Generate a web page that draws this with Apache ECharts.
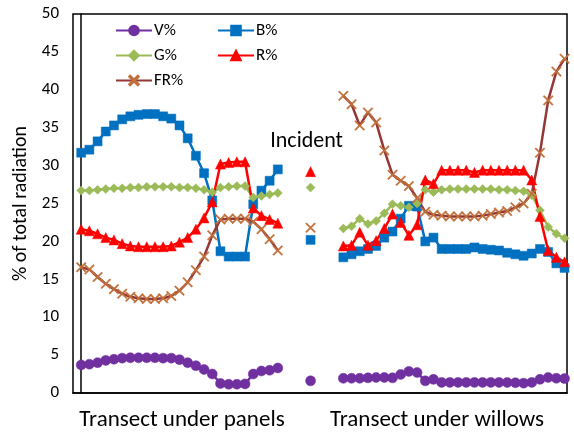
<!DOCTYPE html>
<html>
<head>
<meta charset="utf-8">
<script src="https://cdn.jsdelivr.net/npm/echarts@6/dist/echarts.min.js"></script>
<style>
  html, body { margin: 0; padding: 0; background: #fff; }
  #main { width: 574px; height: 438px; }
</style>
</head>
<body>
<div id="main"></div>
<script>
// transect under panels (25 points)
var panelV  = [3.7, 3.8, 4.0, 4.3, 4.45, 4.6, 4.65, 4.65, 4.65, 4.65, 4.6, 4.6, 4.4, 4.0, 3.6, 3.1, 2.5, 1.25, 1.15, 1.15, 1.2, 2.5, 2.9, 3.0, 3.3];
var panelB  = [31.7, 32.1, 33.2, 34.5, 35.3, 36.1, 36.5, 36.7, 36.8, 36.8, 36.5, 36.2, 35.3, 33.6, 31.3, 29.0, 25.4, 18.7, 18.0, 18.0, 18.0, 24.9, 26.7, 28.0, 29.5];
var panelG  = [26.7, 26.7, 26.8, 26.9, 27.0, 27.0, 27.1, 27.1, 27.2, 27.2, 27.2, 27.2, 27.1, 27.1, 27.0, 26.8, 26.5, 27.1, 27.2, 27.3, 27.3, 25.8, 26.0, 26.2, 26.4];
var panelR  = [21.6, 21.4, 21.0, 20.5, 20.2, 19.7, 19.4, 19.3, 19.3, 19.3, 19.3, 19.4, 19.9, 20.5, 21.6, 23.1, 25.2, 30.2, 30.4, 30.5, 30.5, 24.4, 23.4, 22.9, 22.4];
var panelFR = [16.6, 16.3, 15.3, 14.4, 13.7, 13.1, 12.7, 12.5, 12.4, 12.4, 12.5, 12.8, 13.5, 14.6, 16.2, 18.0, 20.8, 22.9, 23.0, 23.0, 23.0, 22.6, 21.6, 20.3, 18.8];

// incident radiation
var incident = { 'V%': 1.6, 'B%': 20.2, 'G%': 27.1, 'R%': 29.2, 'FR%': 21.8 };

// transect under willows (28 points)
var willowV  = [1.94, 1.94, 1.94, 2.0, 2.05, 2.05, 2.0, 2.45, 2.85, 2.7, 1.6, 1.8, 1.4, 1.4, 1.4, 1.4, 1.4, 1.4, 1.4, 1.4, 1.38, 1.35, 1.3, 1.4, 1.8, 2.05, 1.94, 1.9];
var willowB  = [17.9, 18.3, 18.7, 19.0, 19.4, 20.5, 21.3, 23.0, 24.7, 24.6, 20.0, 20.5, 19.0, 19.0, 19.0, 19.0, 19.2, 19.0, 18.9, 18.8, 18.5, 18.3, 18.1, 18.4, 19.0, 18.6, 17.1, 16.5];
var willowG  = [21.7, 22.0, 23.0, 22.3, 22.7, 23.7, 24.9, 24.7, 24.5, 25.0, 26.8, 26.5, 26.8, 26.9, 26.9, 26.9, 26.9, 26.9, 26.9, 26.8, 26.8, 26.7, 26.6, 26.1, 24.1, 21.9, 21.0, 20.4];
var willowR  = [19.4, 19.5, 21.2, 19.5, 20.1, 21.7, 23.6, 22.5, 20.8, 22.2, 28.1, 27.6, 29.4, 29.4, 29.4, 29.4, 29.1, 29.4, 29.4, 29.4, 29.4, 29.4, 29.4, 28.1, 23.3, 18.8, 17.9, 17.3];
var willowFR = [39.2, 38.1, 35.3, 37.0, 35.7, 32.0, 28.8, 28.0, 27.3, 25.7, 23.9, 23.5, 23.4, 23.3, 23.3, 23.3, 23.3, 23.4, 23.6, 23.8, 24.0, 24.5, 25.0, 26.3, 31.7, 38.6, 42.4, 44.1];

var groupLabels = ['Transect under panels', 'Transect under willows'];

// slot positions on the x axis
var incidentX = 28;
var willowStart = 32;

var FONT = 'Carlito, Lato, sans-serif';
var crossPath = 'path://M0,1L1,0L5,4L9,0L10,1L6,5L10,9L9,10L5,6L1,10L0,9L4,5Z';

function buildData(panel, inc, willow) {
  var d = [];
  for (var i = 0; i < panel.length; i++) d.push([i, panel[i]]);
  d.push([panel.length + 1, null]);
  d.push([incidentX, inc]);
  d.push([incidentX + 2, null]);
  for (var k = 0; k < willow.length; k++) d.push([willowStart + k, willow[k]]);
  return d;
}

var seriesDefs = [
  { name: 'V%',  panel: panelV,  willow: willowV,  color: '#7030a0', symbol: 'circle', size: 10 },
  { name: 'B%',  panel: panelB,  willow: willowB,  color: '#0070c0', symbol: 'rect', size: 9 },
  { name: 'G%',  panel: panelG,  willow: willowG,  color: '#9bbb59', symbol: 'diamond', size: 9 },
  { name: 'R%',  panel: panelR,  willow: willowR,  color: '#ff0000', symbol: 'triangle', size: 10 },
  { name: 'FR%', panel: panelFR, willow: willowFR, color: '#953735', symbol: crossPath, size: 10, markColor: '#c0703a' }
];

var series = seriesDefs.map(function (s) {
  var data = buildData(s.panel, incident[s.name], s.willow);
  if (s.name === 'R%') {
    // the "Incident" caption sits above the incident point
    data = data.map(function (p) {
      if (p[0] === incidentX) {
        return {
          value: p,
          label: {
            show: true, position: 'top', distance: 14, offset: [-4, 0],
            formatter: 'Incident', color: '#000', fontSize: 22, fontFamily: FONT
          }
        };
      }
      return p;
    });
  }
  return {
    name: s.name,
    type: 'line',
    data: data,
    connectNulls: false,
    symbol: s.symbol,
    symbolSize: s.size,
    showAllSymbol: true,
    animation: false,
    lineStyle: { color: s.color, width: 2.5 },
    itemStyle: { color: s.markColor || s.color, borderColor: s.markColor || s.color, borderWidth: 0.5 },
    emphasis: { disabled: true },
    z: 2
  };
});

var chart = echarts.init(document.getElementById('main'));
chart.setOption({
  backgroundColor: '#fff',
  animation: false,
  grid: {
    left: 73, right: 7, top: 14, bottom: 45,
    show: true, borderColor: '#000', borderWidth: 1.5, backgroundColor: 'transparent'
  },
  legend: [
    {
      data: ['V%', 'G%', 'FR%'],
      orient: 'vertical', left: 110, top: 17, itemGap: 8,
      itemWidth: 36, itemHeight: 12,
      textStyle: { fontSize: 17, fontFamily: FONT, color: '#000', padding: [0, 0, 0, -3] }
    },
    {
      data: ['B%', 'R%'],
      orient: 'vertical', left: 212, top: 17, itemGap: 8,
      itemWidth: 36, itemHeight: 12,
      textStyle: { fontSize: 17, fontFamily: FONT, color: '#000', padding: [0, 0, 0, -3] }
    }
  ],
  xAxis: {
    type: 'value',
    min: -1, max: 59.3,
    axisLine: { show: true, lineStyle: { color: '#000', width: 1.5 } },
    axisTick: { show: false },
    axisLabel: { show: false },
    splitLine: { show: false }
  },
  yAxis: {
    type: 'value',
    min: 0, max: 50, interval: 5,
    name: '% of total radiation',
    nameLocation: 'middle',
    nameGap: 41,
    nameTextStyle: { fontSize: 20, fontFamily: FONT, color: '#000' },
    axisLine: { show: true, lineStyle: { color: '#000', width: 1.5 } },
    axisTick: { show: false },
    axisLabel: { fontSize: 17, fontFamily: FONT, color: '#000', margin: 14 },
    splitLine: { show: false }
  },
  graphic: [
    {
      type: 'text',
      style: { text: groupLabels[0], fontSize: 23, fontFamily: FONT, fill: '#000', x: 182, y: 420, textAlign: 'center', textVerticalAlign: 'middle' }
    },
    {
      type: 'text',
      style: { text: groupLabels[1], fontSize: 23, fontFamily: FONT, fill: '#000', x: 437, y: 420, textAlign: 'center', textVerticalAlign: 'middle' }
    }
  ],
  series: series
});
</script>
</body>
</html>
